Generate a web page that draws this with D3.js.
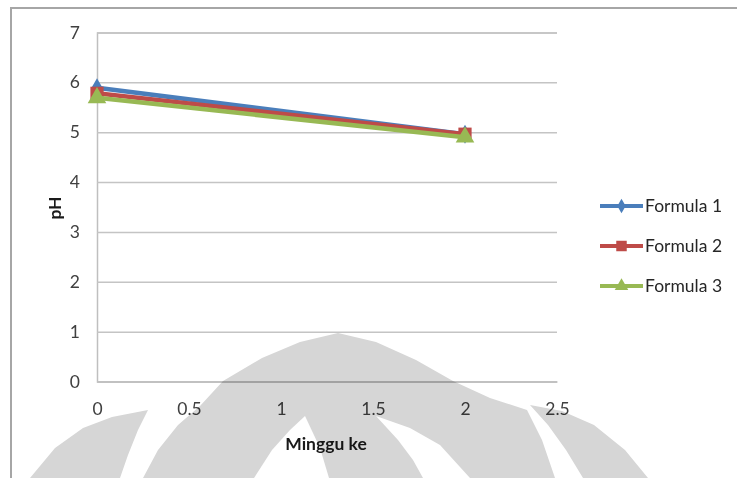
<!DOCTYPE html>
<html>
<head>
<meta charset="utf-8">
<script src="https://cdn.jsdelivr.net/npm/d3@7/dist/d3.min.js"></script>
<style>
  html, body { margin: 0; padding: 0; background: #ffffff; }
  svg { display: block; }
  text { font-family: Lato, "Open Sans", "Liberation Sans", sans-serif; }
</style>
</head>
<body>
<svg id="chart" width="737" height="478"></svg>
<script>
// ---- data ----
const weeks = [0, 2];
const seriesNames = ["Formula 1", "Formula 2", "Formula 3"];
const formula1 = [5.89, 4.96];
const formula2 = [5.78, 4.96];
const formula3 = [5.69, 4.90];
const xTicks = [0, 0.5, 1, 1.5, 2, 2.5];
const xTickLabels = ["0", "0.5", "1", "1.5", "2", "2.5"];
const yTicks = [0, 1, 2, 3, 4, 5, 6, 7];
const yTickLabels = ["0", "1", "2", "3", "4", "5", "6", "7"];
const xTitle = "Minggu ke";
const yTitle = "pH";

const colors = ["#4a7ebb", "#be4b48", "#98b954"];
const symbols = [d3.symbolDiamond, d3.symbolSquare, d3.symbolTriangle];
const symbolSizes = [105, 175, 150];
const legendSymbolSizes = [60, 110, 80];

const svg = d3.select("#chart");
const W = 737, H = 478;

// chart frame
svg.append("path")
  .attr("d", `M11,${H} L11,8 L${W},8`)
  .attr("fill", "none")
  .attr("stroke", "#a6a6a6")
  .attr("stroke-width", 2);

const x = d3.scaleLinear().domain([0, 2.5]).range([97, 557]);
const y = d3.scaleLinear().domain([0, 7]).range([381.5, 32.5]);

// y axis with gridlines
const yAxis = svg.append("g")
  .attr("transform", `translate(${x(0)},0)`)
  .call(d3.axisLeft(y).tickValues(yTicks)
    .tickFormat((d, i) => yTickLabels[i])
    .tickSize(-(x(2.5) - x(0))).tickPadding(17));
yAxis.select(".domain").attr("stroke", "#bfbfbf").attr("stroke-width", 1.5);
yAxis.selectAll(".tick line").attr("stroke", "#c4c4c4").attr("stroke-width", 1.5);
yAxis.selectAll(".tick text")
  .attr("fill", "#404040").attr("font-size", 17.5);

// x axis
const xAxis = svg.append("g")
  .attr("transform", `translate(0,${y(0)})`)
  .call(d3.axisBottom(x).tickValues(xTicks)
    .tickFormat((d, i) => xTickLabels[i])
    .tickSize(0).tickPadding(21));
xAxis.select(".domain").attr("stroke", "#bfbfbf").attr("stroke-width", 1.5);
xAxis.selectAll(".tick text")
  .attr("fill", "#404040").attr("font-size", 17.5);

// axis titles
svg.append("text")
  .attr("x", (x(0) + x(2.5)) / 2 - 1)
  .attr("y", 450)
  .attr("text-anchor", "middle")
  .attr("font-size", 17.5)
  .attr("font-weight", "bold")
  .attr("fill", "#1a1a1a")
  .text(xTitle);

svg.append("text")
  .attr("transform", `translate(61,${(y(0) + y(7)) / 2 + 1}) rotate(-90)`)
  .attr("text-anchor", "middle")
  .attr("font-size", 17.5)
  .attr("font-weight", "bold")
  .attr("fill", "#1a1a1a")
  .text(yTitle);

// series
const allSeries = [formula1, formula2, formula3];
const line = d3.line().x((d, i) => x(weeks[i])).y(d => y(d));

allSeries.forEach((vals, s) => {
  const g = svg.append("g");
  g.append("path")
    .datum(vals)
    .attr("d", line)
    .attr("fill", "none")
    .attr("stroke", colors[s])
    .attr("stroke-width", 4.5)
    .attr("stroke-linejoin", "round");
  g.selectAll("path.marker")
    .data(vals)
    .join("path")
    .attr("class", "marker")
    .attr("transform", (d, i) => `translate(${x(weeks[i])},${y(d)})`)
    .attr("d", d3.symbol().type(symbols[s]).size(symbolSizes[s]))
    .attr("fill", colors[s]);
});

// legend
const legend = svg.append("g").attr("transform", "translate(600,206)");
seriesNames.forEach((name, s) => {
  const row = legend.append("g").attr("transform", `translate(0,${s * 40})`);
  row.append("line")
    .attr("x1", 0).attr("x2", 43).attr("y1", 0).attr("y2", 0)
    .attr("stroke", colors[s]).attr("stroke-width", 4);
  row.append("path")
    .attr("transform", "translate(21.5,0)")
    .attr("d", d3.symbol().type(symbols[s]).size(legendSymbolSizes[s]))
    .attr("fill", colors[s]);
  row.append("text")
    .attr("x", 45).attr("y", 0).attr("dy", "0.35em")
    .attr("font-size", 17.5)
    .attr("fill", "#262626")
    .text(name);
});

// background watermark (decorative emblem, multiplied over the chart)
const wm = svg.append("g").style("mix-blend-mode", "multiply");
const grey = "#d6d6d6";
const poly = d3.line();
// central dome
wm.append("path")
  .attr("d", poly([[143,478],[158,450],[178,425],[200,406],[223,381],[262,358],[300,342],[338,333],[376,342],[416,360],[453,381],[490,398],[527,410],[542,440],[555,478]]) + "Z")
  .attr("fill", grey);
// left petal
wm.append("path")
  .attr("d", poly([[148,410],[112,417],[83,428],[55,448],[30,478],[120,478],[128,455],[138,430]]) + "Z")
  .attr("fill", grey);
// right petal
wm.append("path")
  .attr("d", poly([[530,405],[562,411],[594,425],[625,450],[648,478],[583,478],[566,450],[548,425]]) + "Z")
  .attr("fill", grey);
// white cuts in the dome
wm.append("path")
  .attr("d", poly([[305,416],[290,430],[272,450],[254,478],[329,478],[320,448]]) + "Z")
  .attr("fill", "#ffffff");
wm.append("path")
  .attr("d", poly([[376,416],[398,440],[413,460],[423,478],[470,478],[440,445],[410,428]]) + "Z")
  .attr("fill", "#ffffff");
</script>
</body>
</html>
